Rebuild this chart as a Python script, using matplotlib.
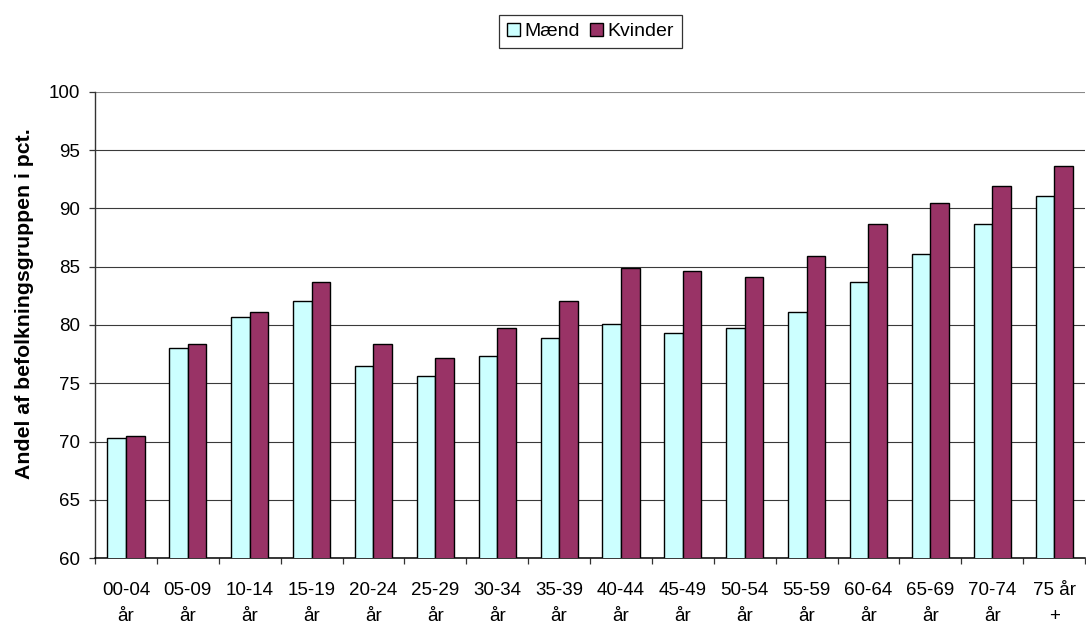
import matplotlib
matplotlib.use("Agg")
import matplotlib.pyplot as plt
import numpy as np

plt.rcParams['font.family'] = ['Liberation Sans', 'DejaVu Sans']

categories = ["00-04\når", "05-09\når", "10-14\når", "15-19\når", "20-24\når", "25-29\når",
              "30-34\når", "35-39\når", "40-44\når", "45-49\når", "50-54\når", "55-59\når",
              "60-64\når", "65-69\når", "70-74\når", "75 år\n+"]
maend = [70.3, 78.0, 80.7, 82.1, 76.5, 75.6, 77.3, 78.9, 80.1, 79.3, 79.7, 81.1, 83.7, 86.1, 88.7, 91.1]
kvinder = [70.5, 78.4, 81.1, 83.7, 78.4, 77.2, 79.7, 82.1, 84.9, 84.6, 84.1, 85.9, 88.7, 90.5, 91.9, 93.6]
yticks = [60, 65, 70, 75, 80, 85, 90, 95, 100]

W, H = 1086, 624
fig = plt.figure(figsize=(W / 100, H / 100), dpi=100)
left, right, top, bottom = 95, 1085, 91.7, 558.3
ax = fig.add_axes([left / W, 1 - bottom / H, (right - left) / W, (bottom - top) / H])

x = np.arange(len(categories))
w = 0.3
ax.bar(x - w/2, maend, w, color='#CCFFFF', edgecolor='black', linewidth=1.0, label='Mænd', zorder=3)
ax.bar(x + w/2, kvinder, w, color='#993366', edgecolor='black', linewidth=1.0, label='Kvinder', zorder=3)

ax.set_ylim(60, 100)
ax.set_xlim(-0.5, len(categories) - 0.5)
ax.set_yticks(yticks)
ax.yaxis.grid(True, color='#3a3a3a', linewidth=0.8, zorder=0)
ax.get_ygridlines()[-1].set_color('#8a8a8a')
ax.set_axisbelow(True)

ax.set_xticks(np.arange(-0.5, len(categories), 1.0))
ax.set_xticklabels([])
ax.set_xticks(x, minor=True)
ax.set_xticklabels(categories, minor=True, fontsize=13.5, linespacing=1.72)
ax.tick_params(axis='x', which='major', direction='out', length=4.3, width=0.9, color='#333333')
ax.tick_params(axis='x', which='minor', length=0, pad=17)
ax.tick_params(axis='y', direction='out', length=4.3, width=0.9, labelsize=13.5,
               color='#333333', pad=6.5)

for s in ['top', 'right']:
    ax.spines[s].set_visible(False)
ax.spines['left'].set_color('#333333')
ax.spines['left'].set_linewidth(1.0)
ax.spines['bottom'].set_color('black')
ax.spines['bottom'].set_linewidth(1.1)

fig.text(25 / W, 1 - 303.8 / H, 'Andel af befolkningsgruppen i pct.', rotation=90,
         ha='center', va='center', fontsize=15.3, fontweight='bold')

leg = fig.legend(loc='center', bbox_to_anchor=(590.5 / W, 1 - 31.5 / H), ncol=2, frameon=True,
                 fancybox=False, edgecolor='black', fontsize=14, handlelength=0.67,
                 handleheight=0.67, handletextpad=0.2, columnspacing=0.55, borderpad=0.42)
leg.get_frame().set_linewidth(0.9)

fig.savefig('out.png', dpi=100)
